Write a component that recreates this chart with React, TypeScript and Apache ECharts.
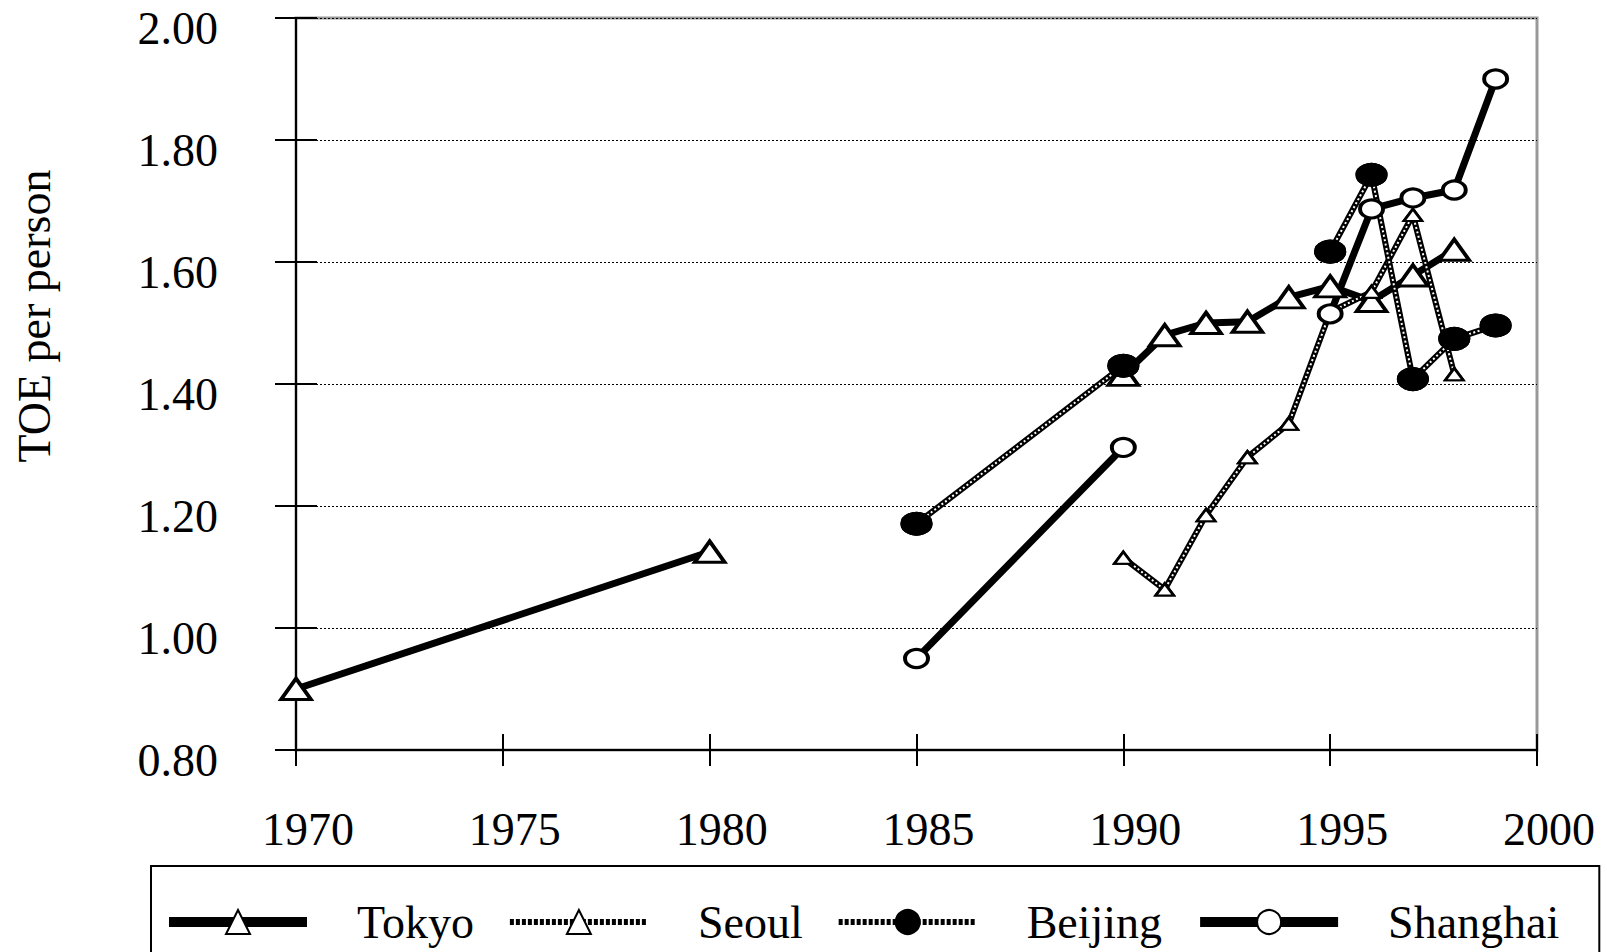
import React, { useEffect, useRef } from "react";
import * as echarts from "echarts";

const years = [1970, 1980, 1985, 1990, 1991, 1992, 1993, 1994, 1995, 1996, 1997, 1998, 1999];
const tokyo = [0.9, 1.125, null, 1.415, 1.48, 1.5, 1.502, 1.542, 1.56, 1.536, 1.578, 1.62, null];
const seoul = [null, null, null, 1.115, 1.063, 1.185, 1.28, 1.335, 1.518, 1.551, 1.677, 1.416, null];
const beijing = [null, null, 1.171, 1.43, null, null, null, null, 1.617, 1.743, 1.408, 1.474, 1.496];
const shanghai = [null, null, 0.95, 1.296, null, null, null, null, 1.515, 1.687, 1.705, 1.718, 1.9];
const seriesNames = ["Tokyo", "Seoul", "Beijing", "Shanghai"];
const yTitle = "TOE per person";

const FONT = "'Liberation Serif', 'Times New Roman', serif";

const toPairs = (vals: (number | null)[]) =>
  years.map((y, i) => [y, vals[i] === null ? "-" : vals[i]]);

export default function App() {
  const ref = useRef<HTMLDivElement>(null);
  useEffect(() => {
    document.body.style.margin = "0";
    const chart = echarts.init(ref.current!, undefined, { renderer: "svg" });
    const triBig = { color: "#fff", borderColor: "#000", borderWidth: 3.5 };
    const triSmall = { color: "#fff", borderColor: "#000", borderWidth: 2.5 };
    const dotFill = { color: "#000", borderColor: "#000", borderWidth: 1 };
    const openCirc = { color: "#fff", borderColor: "#000", borderWidth: 3.5 };
    const labelStyle = { fontSize: 46, fontFamily: FONT, color: "#000" };

    chart.setOption({
      animation: false,
      backgroundColor: "#fff",
      grid: {
        left: 296,
        right: 70,
        top: 18,
        bottom: 202,
        show: true,
        borderColor: "#999",
        borderWidth: 3,
      },
      xAxis: [
        {
          type: "value",
          min: 1970,
          max: 2000,
          interval: 5,
          axisLine: { show: true, onZero: false, lineStyle: { color: "#000", width: 2 } },
          axisTick: { show: true, inside: false, length: 16, lineStyle: { color: "#000", width: 2 } },
          axisLabel: {
            ...labelStyle,
            margin: 56,
            padding: [0, 0, 0, 24],
            formatter: (v: number) => String(v),
          },
          splitLine: { show: false },
        },
        {
          type: "value",
          min: 1970,
          max: 2000,
          interval: 5,
          position: "bottom",
          offset: 0,
          axisLine: { show: false, onZero: false },
          axisTick: { show: true, inside: true, length: 16, lineStyle: { color: "#000", width: 2 } },
          axisLabel: { show: false },
          splitLine: { show: false },
        },
      ],
      yAxis: [
        {
          type: "value",
          min: 0.8,
          max: 2.0,
          interval: 0.2,
          axisLine: { show: true, onZero: false, lineStyle: { color: "#000", width: 2 } },
          axisTick: { show: true, inside: false, length: 21, lineStyle: { color: "#000", width: 2 } },
          axisLabel: {
            ...labelStyle,
            margin: 78,
            verticalAlign: "top",
            lineHeight: 20,
            formatter: (v: number) => v.toFixed(2),
          },
          splitLine: { show: true, lineStyle: { color: "#000", width: 1, type: [2, 2] } },
        },
        {
          type: "value",
          min: 0.8,
          max: 2.0,
          interval: 0.2,
          position: "left",
          offset: 0,
          axisLine: { show: false, onZero: false },
          axisTick: { show: true, inside: true, length: 21, lineStyle: { color: "#000", width: 2 } },
          axisLabel: { show: false },
          splitLine: { show: false },
        },
      ],
      legend: {
        left: 151,
        top: 866,
        width: 1500,
        orient: "horizontal",
        itemWidth: 138,
        itemHeight: 30,
        itemGap: 33,
        padding: [33, 40, 40, 13],
        borderColor: "#000",
        borderWidth: 2,
        textStyle: { ...labelStyle, padding: [0, 0, 0, 45] },
        data: [
          { name: seriesNames[0], lineStyle: { width: 10, color: "#000" } },
          { name: seriesNames[1], lineStyle: { width: 6, color: "#000", type: [4, 2] } },
          { name: seriesNames[2], lineStyle: { width: 6, color: "#000", type: [4, 2] } },
          { name: seriesNames[3], lineStyle: { width: 10, color: "#000" } },
        ],
      },
      graphic: [
        {
          type: "text",
          x: 34,
          y: 316,
          rotation: Math.PI / 2,
          style: {
            text: yTitle,
            fontSize: 46,
            fontFamily: FONT,
            fill: "#000",
            align: "center",
            verticalAlign: "middle",
          },
        },
      ],
      series: [
        {
          name: seriesNames[0],
          type: "line",
          data: toPairs(tokyo),
          symbol: "triangle",
          symbolSize: [30, 21],
          showSymbol: true,
          connectNulls: false,
          lineStyle: { color: "#000", width: 7 },
          itemStyle: triBig,
        },
        {
          name: seriesNames[1],
          type: "line",
          data: toPairs(seoul),
          symbol: "triangle",
          symbolSize: [18, 12],
          connectNulls: false,
          lineStyle: { color: "#000", width: 6 },
          itemStyle: triSmall,
        },
        {
          name: "SeoulDots",
          type: "line",
          data: toPairs(seoul),
          symbol: "none",
          silent: true,
          connectNulls: false,
          lineStyle: { color: "#fff", width: 2, type: [2, 2.5] },
        },
        {
          name: "SeoulMarks",
          type: "line",
          data: toPairs(seoul),
          symbol: "triangle",
          symbolSize: [18, 12],
          silent: true,
          connectNulls: false,
          lineStyle: { width: 0, opacity: 0 },
          itemStyle: triSmall,
        },
        {
          name: seriesNames[2],
          type: "line",
          data: toPairs(beijing),
          symbol: "circle",
          symbolSize: [31, 23],
          connectNulls: false,
          lineStyle: { color: "#000", width: 6 },
          itemStyle: dotFill,
        },
        {
          name: "BeijingDots",
          type: "line",
          data: toPairs(beijing),
          symbol: "none",
          silent: true,
          connectNulls: false,
          lineStyle: { color: "#fff", width: 2, type: [2, 2.5] },
        },
        {
          name: "BeijingMarks",
          type: "line",
          data: toPairs(beijing),
          symbol: "circle",
          symbolSize: [31, 23],
          silent: true,
          connectNulls: false,
          lineStyle: { width: 0, opacity: 0 },
          itemStyle: dotFill,
        },
        {
          name: seriesNames[3],
          type: "line",
          data: toPairs(shanghai),
          symbol: "circle",
          symbolSize: [23, 18],
          connectNulls: false,
          lineStyle: { color: "#000", width: 7 },
          itemStyle: openCirc,
        },
      ],
    });
    return () => chart.dispose();
  }, []);
  return <div ref={ref} style={{ width: 1607, height: 952 }} />;
}
